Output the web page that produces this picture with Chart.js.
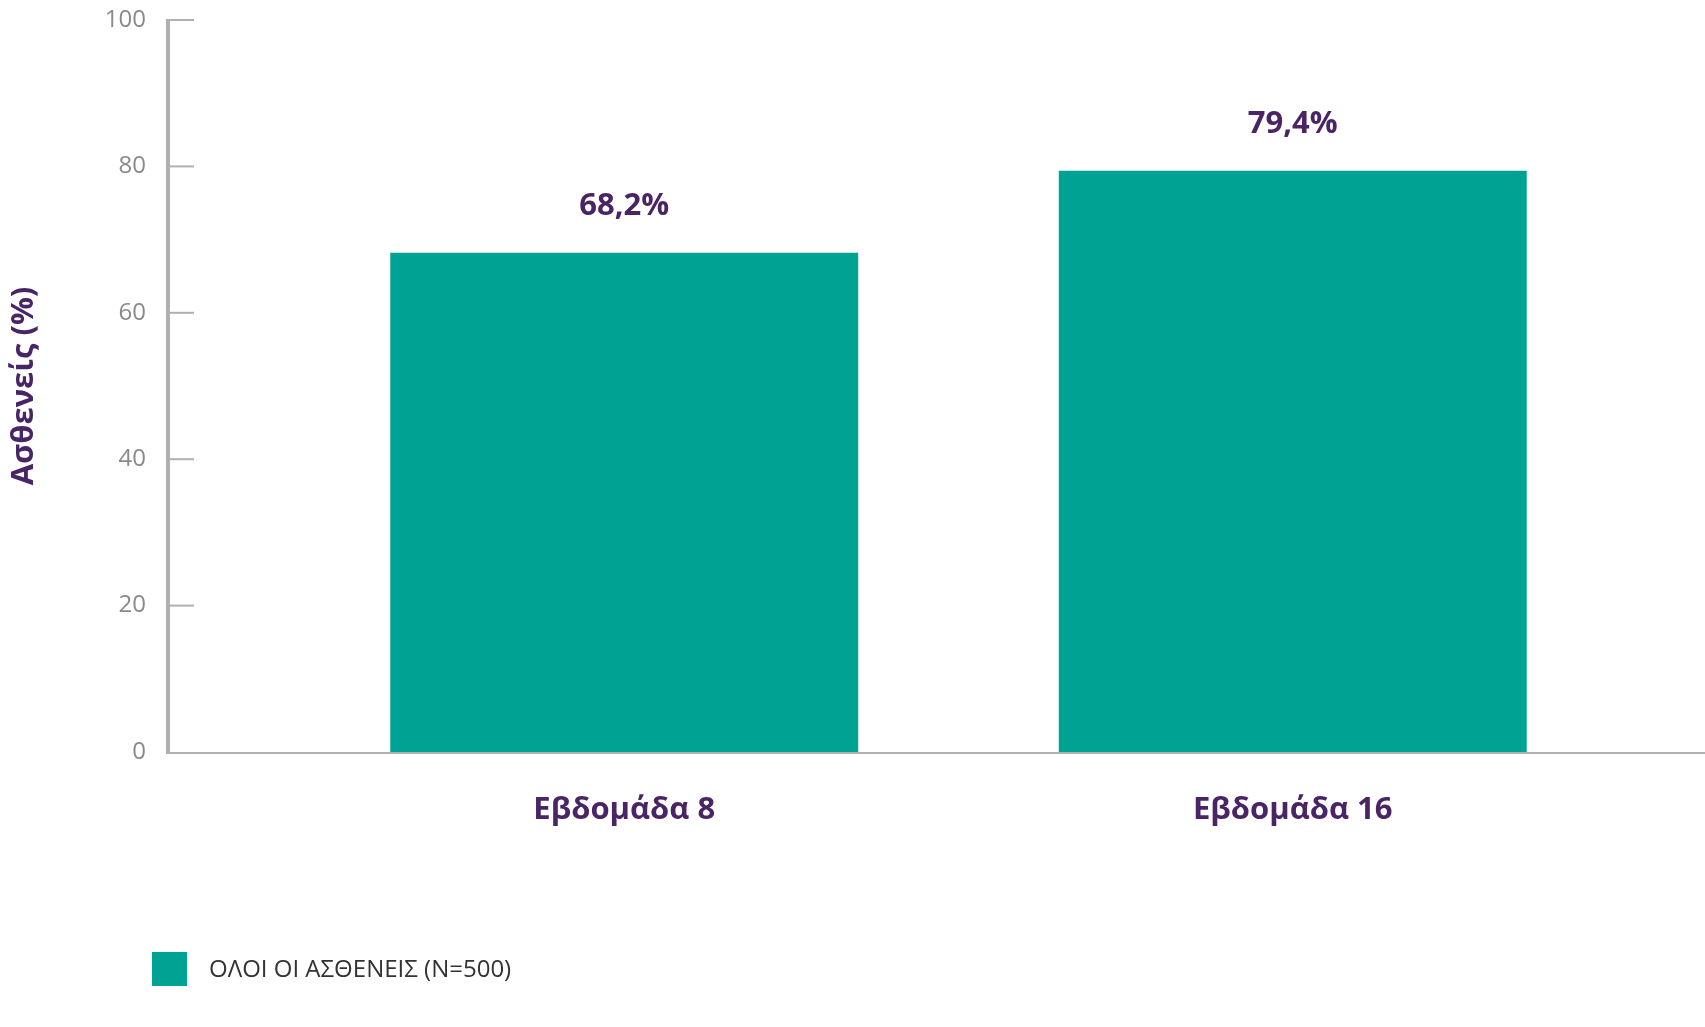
<!DOCTYPE html>
<html><head><meta charset="utf-8">
<script src="https://cdn.jsdelivr.net/npm/chart.js@4"></script>
<style>html,body{margin:0;padding:0;background:#fff}#w{width:1705px;height:1027px}</style>
</head><body><div id="w"><canvas id="c"></canvas></div>
<script>
const categories = ['Εβδομάδα 8', 'Εβδομάδα 16'];
const values = [68.2, 79.4];
const valueLabels = ['68,2%', '79,4%'];
const yTicks = [0, 20, 40, 60, 80, 100];
const seriesName = 'ΟΛΟΙ ΟΙ ΑΣΘΕΝΕΙΣ (N=500)';
const yTitle = 'Ασθενείς (%)';
const TEAL = '#00a294', PURPLE = '#4a2566', GRAY = '#8a8a8a', AX = '#b0b0b0';
const F = '"Open Sans", "Liberation Sans", sans-serif';

const deco = {
  id: 'deco',
  afterDraw(ch) {
    const c = ch.ctx, y = ch.scales.y, x = ch.scales.x, a = ch.chartArea;
    c.save();
    const axX = 168;
    c.strokeStyle = AX; c.lineWidth = 4;
    c.beginPath(); c.moveTo(axX, y.getPixelForValue(100) - 1); c.lineTo(axX, y.getPixelForValue(0) + 2); c.stroke();
    c.lineWidth = 2;
    c.beginPath(); c.moveTo(axX, y.getPixelForValue(0) + 1); c.lineTo(1705, y.getPixelForValue(0) + 1); c.stroke();
    c.font = '24px ' + F; c.fillStyle = GRAY; c.textAlign = 'right'; c.textBaseline = 'middle';
    yTicks.forEach(t => {
      const p = y.getPixelForValue(t);
      if (t > 0) { c.beginPath(); c.moveTo(axX, p); c.lineTo(194, p); c.stroke(); }
      c.fillText(String(t), 146, p);
    });
    c.fillStyle = PURPLE; c.textAlign = 'center';
    c.font = 'bold 31px ' + F;
    categories.forEach((cat, i) => {
      const px = x.getPixelForValue(i);
      c.textBaseline = 'alphabetic';
      c.fillText(valueLabels[i], px, y.getPixelForValue(values[i]) - 38);
      c.textBaseline = 'middle';
      c.fillText(cat, px, 810);
    });
    c.save(); c.translate(24, 386); c.rotate(-Math.PI / 2);
    c.font = 'bold 31px ' + F; c.fillText(yTitle, 0, 0); c.restore();
    c.fillStyle = TEAL; c.fillRect(152, 952, 35, 34);
    c.fillStyle = '#333'; c.font = '24px ' + F; c.textAlign = 'left'; c.textBaseline = 'middle';
    c.fillText(seriesName, 209, 970);
    c.restore();
  }
};

new Chart(document.getElementById('c'), {
  type: 'bar',
  data: { labels: categories, datasets: [{ label: seriesName, data: values, backgroundColor: TEAL, categoryPercentage: 0.7, barPercentage: 1 }] },
  options: {
    responsive: true, maintainAspectRatio: false, animation: false,
    layout: { padding: { left: 290, right: 78, top: 20, bottom: 275 } },
    plugins: { legend: { display: false }, tooltip: { enabled: false } },
    scales: {
      x: { display: false },
      y: { display: false, min: 0, max: 100 }
    }
  },
  plugins: [deco]
});
</script></body></html>
